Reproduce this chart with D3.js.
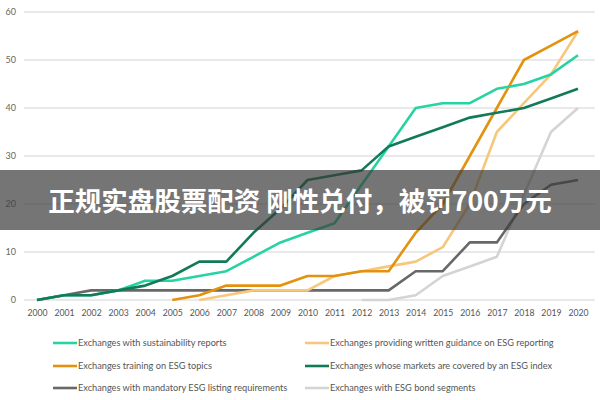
<!DOCTYPE html>
<html>
<head>
<meta charset="utf-8">
<script src="https://cdn.jsdelivr.net/npm/d3@7"></script>
<style>
  html, body { margin: 0; padding: 0; background: #fff; }
  svg { display: block; }
</style>
</head>
<body>
<svg id="chart" width="600" height="400"></svg>
<script>
const years = [2000,2001,2002,2003,2004,2005,2006,2007,2008,2009,2010,2011,2012,2013,2014,2015,2016,2017,2018,2019,2020];
const yTicks = [0,10,20,30,40,50,60];

const sustainabilityReports = [0,1,1,2,4,4,5,6,9,12,14,16,24,32,40,41,41,44,45,47,51];
const writtenGuidance       = [null,null,null,null,null,null,0,1,2,2,2,5,6,7,8,11,20,35,41,47,56];
const trainingESG           = [null,null,null,null,null,0,1,3,3,3,5,5,6,6,14,20,30,40,50,53,56];
const esgIndex              = [0,1,1,2,3,5,8,8,14,19,25,26,27,32,34,36,38,39,40,42,44];
const mandatoryListing      = [0,1,2,2,2,2,2,2,2,2,2,2,2,2,6,6,12,12,20,24,25];
const bondSegments          = [null,null,null,null,null,null,null,null,null,null,null,null,0,0,1,5,7,9,22,35,40];

const seriesNames = [
  "Exchanges with sustainability reports",
  "Exchanges providing written guidance on ESG reporting",
  "Exchanges training on ESG topics",
  "Exchanges whose markets are covered by an ESG index",
  "Exchanges with mandatory ESG listing requirements",
  "Exchanges with ESG bond segments"
];
const bannerText = "正规实盘股票配资 刚性兑付，被罚700万元";

const series = [
  {name: seriesNames[0], values: sustainabilityReports, color: "#27d3a2"},
  {name: seriesNames[1], values: writtenGuidance, color: "#f6c77c"},
  {name: seriesNames[2], values: trainingESG, color: "#e3920f"},
  {name: seriesNames[3], values: esgIndex, color: "#127a58"},
  {name: seriesNames[4], values: mandatoryListing, color: "#686868"},
  {name: seriesNames[5], values: bondSegments, color: "#d4d4d4"}
];
// draw order (back to front)
const drawOrder = [5,4,1,2,0,3];

const svg = d3.select("#chart");
const x = d3.scaleLinear().domain([2000, 2020]).range([37, 578]);
const y = d3.scaleLinear().domain([0, 60]).range([300, 12]);

// gridlines
svg.append("g").selectAll("line").data(yTicks).join("line")
  .attr("x1", 24).attr("x2", 595)
  .attr("y1", d => y(d)).attr("y2", d => y(d))
  .attr("stroke", "#e2e2e2").attr("stroke-width", 1.5);

// y axis labels
const yAxis = d3.axisLeft(y).tickValues(yTicks).tickSize(0).tickPadding(0);
const gy = svg.append("g").attr("transform", "translate(16,0)").call(yAxis);
gy.select(".domain").remove();
gy.selectAll("text").attr("fill", "#666").style("font-family", "Lato, 'Open Sans', sans-serif").style("font-size", "9px");

// x axis labels
const xAxis = d3.axisBottom(x).tickValues(years).tickFormat(d3.format("d")).tickSize(0).tickPadding(0);
const gx = svg.append("g").attr("transform", "translate(0,310)").call(xAxis);
gx.select(".domain").remove();
gx.selectAll("text").attr("fill", "#555").style("font-family", "Lato, 'Open Sans', sans-serif").style("font-size", "8.7px");

// lines
const line = d3.line()
  .defined(d => d[1] !== null)
  .x(d => x(d[0])).y(d => y(d[1]));

svg.append("g").selectAll("path").data(drawOrder.map(i => series[i])).join("path")
  .attr("d", s => line(years.map((yr, i) => [yr, s.values[i]])))
  .attr("fill", "none")
  .attr("stroke", s => s.color)
  .attr("stroke-width", 2.6)
  .attr("stroke-linejoin", "round");

// legend
const legendPos = [[53,343],[305,343],[53,366],[305,366],[53,388],[305,388]];
const lg = svg.append("g").selectAll("g").data(series).join("g")
  .attr("transform", (d, i) => `translate(${legendPos[i][0]},${legendPos[i][1]})`);
lg.append("line").attr("x1", 0).attr("x2", 24).attr("y1", 0).attr("y2", 0)
  .attr("stroke", d => d.color).attr("stroke-width", 2.6);
lg.append("text").attr("x", 25).attr("y", 0).attr("dy", "0.35em")
  .attr("fill", "#555")
  .style("font-family", "Lato, 'Open Sans', sans-serif").style("font-size", "9.2px")
  .text(d => d.name);

// banner overlay
svg.append("rect").attr("x", 0).attr("y", 170).attr("width", 600).attr("height", 60)
  .attr("fill", "rgba(58,58,58,0.7)");
svg.append("text").attr("x", 300).attr("y", 201).attr("dy", "0.36em")
  .attr("text-anchor", "middle").attr("fill", "#fff")
  .style("font-family", "'Noto Sans CJK SC', sans-serif").style("font-weight", "bold")
  .style("font-size", "26.5px")
  .text(bannerText);
</script>
</body>
</html>
